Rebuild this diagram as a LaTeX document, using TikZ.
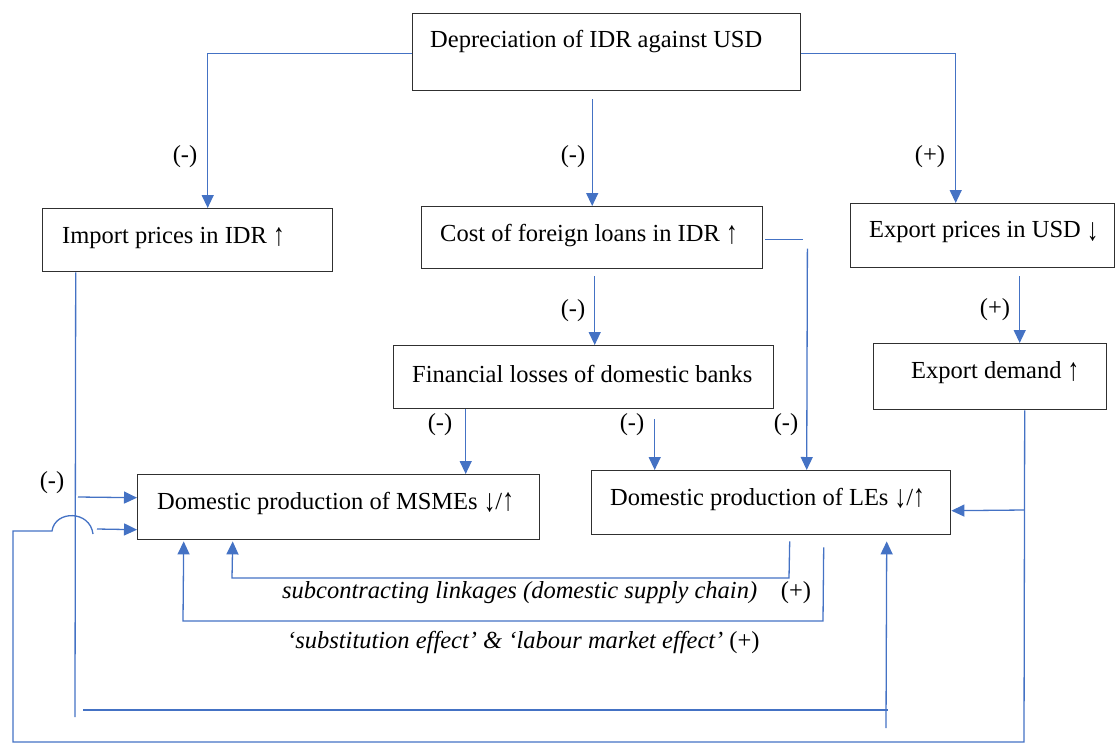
\documentclass[tikz,border=0pt]{standalone}
\usepackage{fontspec}
\setmainfont{Liberation Serif}
\usetikzlibrary{arrows.meta,calc}
\definecolor{lnk}{HTML}{4472C4}
\definecolor{bd}{HTML}{303030}
\newcommand\myup{\raisebox{-0.06em}{\scalebox{0.95}[1.3]{↑}}}
\newcommand\mydown{\raisebox{-0.12em}{\scalebox{0.95}[1.3]{↓}}}
\begin{document}
\begin{tikzpicture}[x=1pt,y=-1pt,
  box/.style={draw=bd, line width=1.4pt, anchor=north west, inner sep=0pt},
  txt/.style={anchor=west, inner sep=0pt, font=\fontsize{24.5}{28}\selectfont},
  sg/.style={inner sep=0pt, font=\fontsize{24.5}{28}\selectfont},
  conn/.style={draw=lnk, line width=1.3pt},
  arr/.style={conn, -{Triangle[length=13pt,width=12pt]}}]
\path[use as bounding box] (0,0) rectangle (1116,747);

% boxes
\node[box, minimum width=388pt, minimum height=77pt] (dep) at (412,13) {};
\node[box, minimum width=290pt, minimum height=63pt] (imp) at (42,208) {};
\node[box, minimum width=341pt, minimum height=62pt] (cost) at (421,206) {};
\node[box, minimum width=264pt, minimum height=64pt] (exp) at (850,203) {};
\node[box, minimum width=233pt, minimum height=66pt] (dem) at (873,343) {};
\node[box, minimum width=380pt, minimum height=63pt] (fin) at (393,345) {};
\node[box, minimum width=402pt, minimum height=65pt] (msme) at (137,474) {};
\node[box, minimum width=359pt, minimum height=64pt] (les) at (591,470) {};

% box texts
\node[txt] (tdep) at (430,42) {Depreciation of IDR against USD};
\node[txt] (timp) at (62,238) {Import prices in IDR \myup};
\node[txt] (tcost) at (440,236) {Cost of foreign loans in IDR \myup};
\node[txt] (texp) at (869,232) {Export prices in USD \mydown};
\node[txt] (tdem) at (911,373) {Export demand \myup};
\node[txt] (tfin) at (412,374) {Financial losses of domestic banks};
\node[txt] (tmsme) at (157,503) {Domestic production of MSMEs \mydown/\myup};
\node[txt] (tles) at (610,499) {Domestic production of LEs \mydown/\myup};

% signs
\node[sg] (s1) at (185,157) {(-)};
\node[sg] (s2) at (573,157) {(-)};
\node[sg] (s3) at (930,157) {(+)};
\node[sg] (s4) at (573,311) {(-)};
\node[sg] (s5) at (995,310) {(+)};
\node[sg] (s6) at (440,425) {(-)};
\node[sg] (s7) at (632,425) {(-)};
\node[sg] (s8) at (786,425) {(-)};
\node[sg] (s9) at (52,483) {(-)};

% connectors from the top box
\draw[arr] ($(dep.west)+(0,1.5)$) -| ($(imp.north)+(20,0)$);
\draw[arr] ($(dep.south -| cost.north)+(0,8)$) -- (cost.north);
\draw[arr] ($(dep.east)+(0,1.5)$) -| ($(exp.north)+(-27,0)$);

\draw[arr] ($(cost.south)+(2.5,7)$) -- ($(fin.north)+(11,0)$);
\draw[arr] ($(exp.south)+(37,8)$) -- ($(dem.north)+(29.5,0)$);
\draw[arr] ($(fin.south)+(-118,0)$) -- ($(msme.north)+(127,0)$);
\draw[arr] ($(fin.south)+(71,10)$) -- ($(les.north)+(-116.5,0)$);

% cost -> LEs (broken line)
\draw[conn] ($(cost.east)+(2,2)$) -- ($(cost.east)+(40,2)$);
\draw[arr] ($(cost.east)+(44,11)$) -- ($(les.north)+(35.5,0)$);

% export demand -> LEs and -> MSMEs
\draw[conn] ($(dem.south)+(34.5,0)$) -- (1024,742) -- (13,742) -- (13,531) -- (52,531)
  .. controls (55,510) and (90,510) .. (93,534);
\draw[arr] (1024,510) -- ($(les.east)+(0,8)$);
\draw[arr] (97,529) -- ($(msme.west)+(0,22.5)$);

% import prices -> MSMEs and -> LEs
\draw[conn] ($(imp.south)+(-112,0)$) -- (75,717);
\draw[arr] (78,497) -- ($(msme.west)+(0,-9.5)$);
\draw[conn] (83,710) -- (888,710);
\draw[arr] (886,728) -- ($(les.south)+(115.5,6)$);

% linkages between LEs and MSMEs
\draw[arr] ($(les.south)+(18.5,6)$) -- (789,578) -- (232,578) -- ($(msme.south)+(-106,1)$);
\draw[arr] ($(les.south)+(52.5,12)$) -- (823,621) -- (183,621) -- ($(msme.south)+(-155,1)$);

\node[txt] (tsub) at (282,593) {\itshape subcontracting linkages (domestic supply chain)};
\node[sg] (ssub) at (796,593) {(+)};
\node[txt] (tsubst) at (287,642) {\itshape ‘substitution effect’ \& ‘labour market effect’ \upshape(+)};
\end{tikzpicture}
\end{document}
